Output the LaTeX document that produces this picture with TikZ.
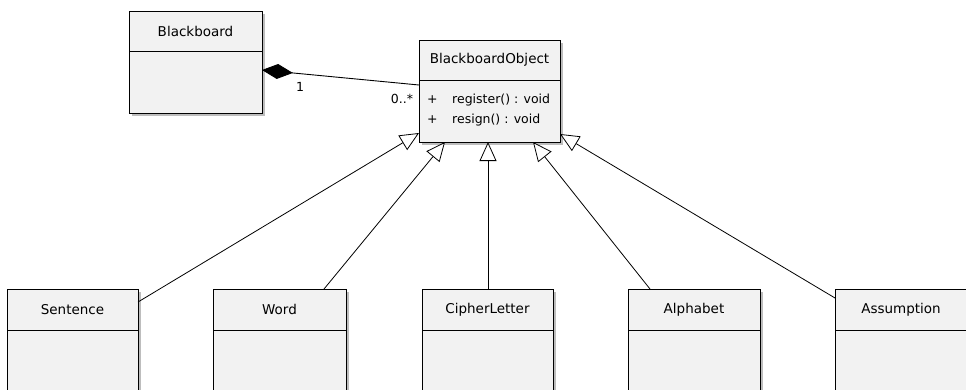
\documentclass[tikz,border=0pt]{standalone}
\usepackage{fontspec}
\setmainfont{DejaVu Sans}
\usetikzlibrary{arrows.meta,calc,shadows}
\definecolor{boxfill}{HTML}{F2F2F2}
\definecolor{shadowc}{HTML}{BDBDBD}
\begin{document}
\begin{tikzpicture}[x=1pt,y=-1pt,
  cls/.style={draw=black, line width=0.9pt, fill=boxfill, inner sep=0pt, outer sep=0pt,
    font=\fontsize{13.5}{16}\selectfont,
    drop shadow={shadow xshift=3pt, shadow yshift=-3pt, fill=shadowc, opacity=1}},
  txt/.style={inner sep=0pt, font=\fontsize{12.5}{15}\selectfont},
  gen/.style={draw=black, line width=0.8pt, -{Triangle[open, length=19pt, width=17pt, fill=white]}},
  comp/.style={draw=black, line width=0.9pt, {Diamond[length=31pt, width=15pt]}-}]
\useasboundingbox (0,0) rectangle (966,389);
\clip (0,0) rectangle (966,389);
% Blackboard
\node[cls, anchor=north west, minimum width=133pt, minimum height=40pt] (bbH) at (129,11) {Blackboard};
\node[cls, anchor=north, minimum width=133pt, minimum height=62pt] (bbB) at (bbH.south) {};
% BlackboardObject
\node[cls, anchor=north west, minimum width=141pt, minimum height=40pt] (boH) at (419,40) {BlackboardObject};
\node[cls, anchor=north, minimum width=141pt, minimum height=62pt] (boB) at (boH.south) {};
\node[txt, anchor=west] (p1) at ($(boB.north west)+(8,20)$) {+};
\node[txt, anchor=west] (m1) at ($(boB.north west)+(33,20)$) {register() : void};
\node[txt, anchor=west] (p2) at ($(boB.north west)+(8,40)$) {+};
\node[txt, anchor=west] (m2) at ($(boB.north west)+(33,40)$) {resign() : void};
% bottom classes
\node[cls, anchor=north west, minimum width=131pt, minimum height=41pt] (seH) at (7,289) {Sentence};
\node[cls, anchor=north, minimum width=131pt, minimum height=80pt] (seB) at (seH.south) {};
\node[cls, anchor=north west, minimum width=133pt, minimum height=41pt] (woH) at (213,289) {Word};
\node[cls, anchor=north, minimum width=133pt, minimum height=80pt] (woB) at (woH.south) {};
\node[cls, anchor=north west, minimum width=131pt, minimum height=41pt] (ciH) at (422,289) {CipherLetter};
\node[cls, anchor=north, minimum width=131pt, minimum height=80pt] (ciB) at (ciH.south) {};
\node[cls, anchor=north west, minimum width=132pt, minimum height=41pt] (alH) at (628,289) {Alphabet};
\node[cls, anchor=north, minimum width=132pt, minimum height=80pt] (alB) at (alH.south) {};
\node[cls, anchor=north west, minimum width=132pt, minimum height=41pt] (asH) at (835,289) {Assumption};
\node[cls, anchor=north, minimum width=132pt, minimum height=80pt] (asB) at (asH.south) {};
% composition
\coordinate (cs) at ($(bbB.north east)+(0,19)$);
\coordinate (ce) at ($(boB.north west)+(0,5)$);
\draw[comp] (cs) -- (ce);
\node[txt] (m1lab) at (300,87) {1};
\node[txt] (mlab) at (402,99) {0..*};
% generalizations
\draw[gen] ($(seH.north east)+(0,13)$) -- ($(boB.south west)+(0,-9)$);
\draw[gen] ($(woH.north west)+(111,0)$) -- ($(boB.south west)+(26,0)$);
\draw[gen] ($(ciH.north west)+(66,0)$) -- ($(boB.south west)+(69,0)$);
\draw[gen] ($(alH.north west)+(22,0)$) -- ($(boB.south west)+(114,0)$);
\draw[gen] ($(asH.north west)+(0,9)$) -- ($(boB.south east)+(0,-8)$);
\end{tikzpicture}
\end{document}
